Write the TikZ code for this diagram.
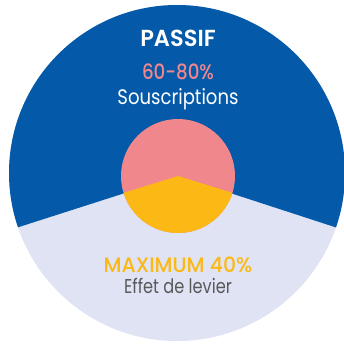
\documentclass[tikz,border=0pt]{standalone}
\usepackage{graphicx}
\usepackage{fontspec}
\setmainfont{Poppins}
\newfontfamily\popmed{Poppins Medium}
\newfontfamily\popsemi{Poppins SemiBold}
\definecolor{darkblue}{HTML}{0459A9}
\definecolor{lightlav}{HTML}{DFE3F3}
\definecolor{pinkc}{HTML}{F0878C}
\definecolor{yellowc}{HTML}{FCB815}
\definecolor{grayt}{HTML}{58595B}
\begin{document}
\begin{tikzpicture}[x=1pt,y=-1pt,
  lbl/.style={anchor=base, inner sep=0pt}]
\useasboundingbox (0,0) rectangle (344,343);
\coordinate (bigc) at (177,173);
\coordinate (apex) at (178,176);
% big circle
\fill[lightlav] (bigc) circle (168);
\begin{scope}
  \clip (bigc) circle (168);
  \fill[darkblue] (-20,239.5) -- (apex) -- (370,238.5) -- (370,-20) -- (-20,-20) -- cycle;
\end{scope}
% inner circle
\fill[pinkc] (apex) circle (57);
\begin{scope}
  \clip (apex) circle (57);
  \fill[yellowc] (100,200.2) -- (apex) -- (256,200.2) -- (256,240) -- (100,240) -- cycle;
\end{scope}
% texts
\node[lbl, white] (passif) at (178,46) {\scalebox{0.97}[1]{\popsemi\fontsize{23.2}{23}\selectfont PASSIF}};
\node[lbl, pinkc] (pct) at (178,79) {\scalebox{0.87}[1]{\popmed\fontsize{21}{21}\selectfont 60-80\%}};
\node[lbl, white] (sousc) at (178,104) {\scalebox{0.86}[1]{\fontsize{21}{21}\selectfont Souscriptions}};
\node[lbl, yellowc] (maxi) at (178,272) {\scalebox{0.97}[1]{\popmed\fontsize{21}{21}\selectfont MAXIMUM 40\%}};
\node[lbl, grayt] (effet) at (178,293) {\scalebox{0.81}[1]{\fontsize{20}{20}\selectfont Effet de levier}};
\end{tikzpicture}
\end{document}
